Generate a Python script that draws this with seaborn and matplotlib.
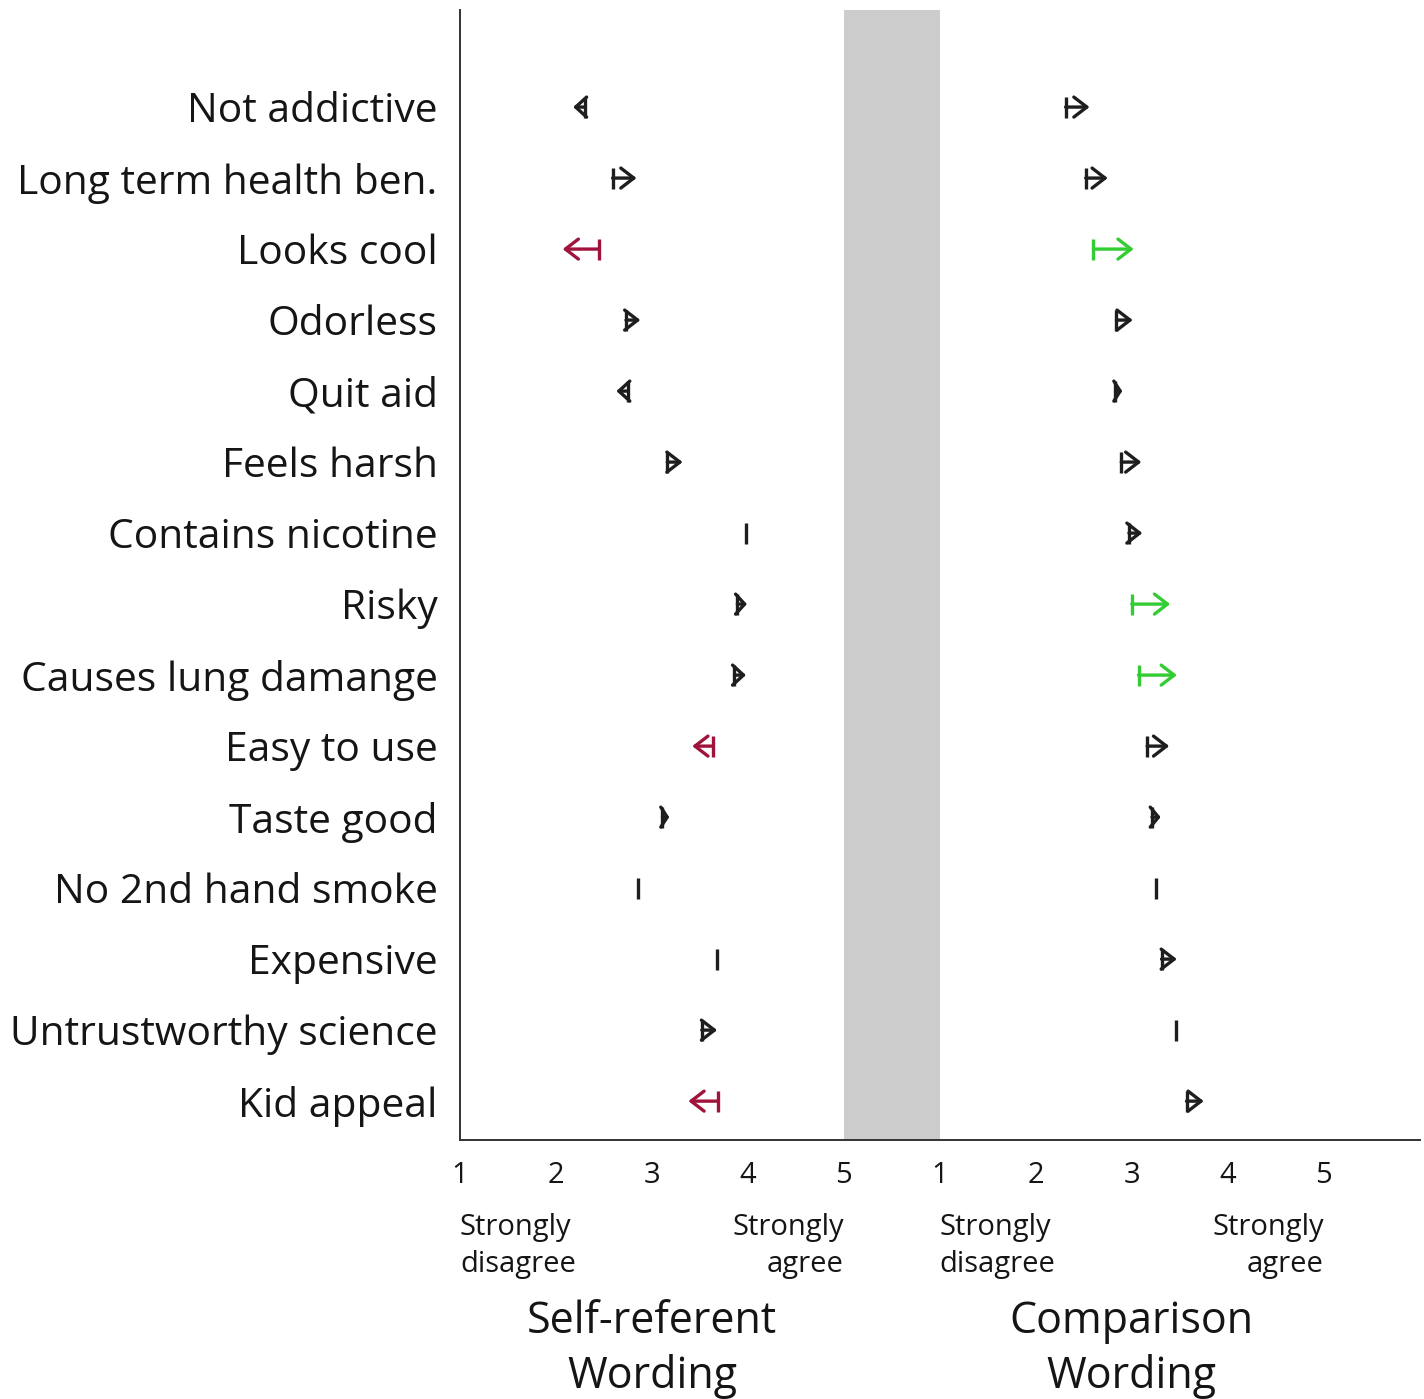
import numpy as np
import pandas as pd
import matplotlib.pyplot as plt
import seaborn as sns

# survey items, top to bottom
items = ["Not addictive", "Long term health ben.", "Looks cool", "Odorless",
         "Quit aid", "Feels harsh", "Contains nicotine", "Risky",
         "Causes lung damange", "Easy to use", "Taste good",
         "No 2nd hand smoke", "Expensive", "Untrustworthy science", "Kid appeal"]

# self-referent wording: mean rating before -> after
self_start = [2.30, 2.59, 2.45, 2.73, 2.75, 3.16, 3.98, 3.89, 3.86, 3.64, 3.11, 2.85, 3.68, 3.52, 3.69]
self_end   = [2.18, 2.84, 2.07, 2.88, 2.63, 3.32, 3.98, 3.99, 3.98, 3.42, 3.18, 2.85, 3.68, 3.68, 3.38]
self_sig   = ["ns", "ns", "down", "ns", "ns", "ns", "ns", "ns", "ns", "down", "ns", "ns", "ns", "ns", "down"]

# comparison wording
comp_start = [2.31, 2.52, 2.60, 2.84, 2.83, 2.89, 2.97, 3.00, 3.07, 3.16, 3.21, 3.25, 3.31, 3.46, 3.57]
comp_end   = [2.56, 2.75, 3.02, 3.01, 2.90, 3.10, 3.11, 3.40, 3.47, 3.39, 3.30, 3.25, 3.47, 3.46, 3.75]
comp_sig   = ["ns", "ns", "up", "ns", "ns", "ns", "ns", "up", "up", "ns", "ns", "ns", "ns", "ns", "ns"]

sig_colors = {"ns": "#1e1e1e", "down": "#a0143c", "up": "#33cc33"}

# one shared axis: self panel at value-1, comparison panel shifted by one unit gap
df = pd.concat([
    pd.DataFrame({"item": items, "row": np.arange(len(items)),
                  "start": np.array(self_start) - 1, "end": np.array(self_end) - 1,
                  "sig": self_sig}),
    pd.DataFrame({"item": items, "row": np.arange(len(items)),
                  "start": np.array(comp_start) + 4, "end": np.array(comp_end) + 4,
                  "sig": comp_sig}),
], ignore_index=True)

sns.set_style("white")
plt.rcParams["font.family"] = ["Open Sans", "DejaVu Sans"]
plt.rcParams["text.color"] = "#151515"
plt.rcParams["xtick.color"] = "#151515"
plt.rcParams["ytick.color"] = "#151515"

fig = plt.figure(figsize=(14.24, 13.99), dpi=100)
ax = fig.add_axes([0.323, 0.185, 0.674, 0.808])

ax.axvspan(4, 5, color="#cccccc", lw=0, zorder=0)
ax.set_xlim(0, 10)
ax.set_ylim(14.55, -1.37)

sns.scatterplot(data=df, x="start", y="row", hue="sig", palette=sig_colors,
                marker="|", s=230, linewidth=2.4, legend=False, ax=ax, zorder=3)

# arrow heads: fixed size, but never longer than the arrow itself
px_per_unit = ax.transData.transform((1, 0))[0] - ax.transData.transform((0, 0))[0]
ms_px = 20 * fig.dpi / 72
for _, r in df.iterrows():
    length_px = abs(r["end"] - r["start"]) * px_per_unit
    if length_px < 1:
        continue
    hl = min(13, length_px * 0.95) / ms_px
    ax.annotate("", xy=(r["end"], r["row"]), xytext=(r["start"], r["row"]),
                arrowprops=dict(arrowstyle=f"->, head_length={hl:.3f}, head_width=0.36",
                                color=sig_colors[r["sig"]], lw=2.4,
                                shrinkA=0, shrinkB=0, mutation_scale=20),
                zorder=3)

ax.set_xticks(range(10))
ax.set_xticklabels(["1", "2", "3", "4", "5"] * 2, fontsize=21)
ax.set_yticks(range(len(items)))
ax.set_yticklabels(items, fontsize=29.3)
ax.tick_params(axis="both", length=0)
ax.tick_params(axis="x", pad=15)
ax.tick_params(axis="y", pad=16)
ax.set_xlabel("")
ax.set_ylabel("")
sns.despine(ax=ax)
for s in ["left", "bottom"]:
    ax.spines[s].set_color("#333333")
    ax.spines[s].set_linewidth(1.4)

tr = ax.get_xaxis_transform()
for off in [0, 5]:
    ax.text(off, -0.064, "Strongly\ndisagree", transform=tr, ha="left", va="top",
            fontsize=21, linespacing=1.38)
    ax.text(off + 4, -0.064, "Strongly\nagree", transform=tr, ha="right", va="top",
            fontsize=21, linespacing=1.38, multialignment="right")
ax.text(2, -0.141, "Self-referent\nWording", transform=tr, ha="center", va="top",
        fontsize=31, linespacing=1.28)
ax.text(7, -0.141, "Comparison\nWording", transform=tr, ha="center", va="top",
        fontsize=31, linespacing=1.28)

fig.savefig("out.png", dpi=100)
